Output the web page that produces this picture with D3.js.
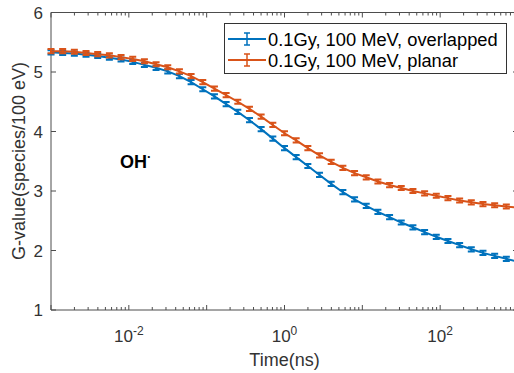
<!DOCTYPE html>
<html>
<head>
<meta charset="utf-8">
<script src="https://cdn.jsdelivr.net/npm/d3@7"></script>
<style>
  body { margin: 0; background: #fff; }
  text { font-family: "Liberation Sans", Arial, Helvetica, sans-serif; }
</style>
</head>
<body>
<script>
// time points, log10(ns)
var logTimes = [-3, -2.85, -2.7, -2.55, -2.4, -2.25, -2.1, -1.95, -1.8, -1.65,
                -1.5, -1.35, -1.2, -1.05, -0.9, -0.75, -0.6, -0.45, -0.3, -0.15,
                0, 0.15, 0.3, 0.45, 0.6, 0.75, 0.9, 1.05, 1.2, 1.35,
                1.5, 1.65, 1.8, 1.95, 2.1, 2.25, 2.4, 2.55, 2.7, 2.85, 3];

var overlapped = [5.33, 5.32, 5.31, 5.29, 5.27, 5.24, 5.21, 5.17, 5.12, 5.07,
                  5.01, 4.93, 4.83, 4.71, 4.59, 4.46, 4.33, 4.19, 4.04, 3.88,
                  3.72, 3.57, 3.42, 3.27, 3.12, 2.98, 2.86, 2.75, 2.65, 2.56,
                  2.47, 2.39, 2.31, 2.23, 2.16, 2.09, 2.02, 1.96, 1.91, 1.86, 1.81];

var planar = [5.35, 5.35, 5.34, 5.32, 5.30, 5.28, 5.25, 5.22, 5.18, 5.13,
              5.08, 5.01, 4.93, 4.83, 4.72, 4.61, 4.50, 4.38, 4.25, 4.11,
              3.97, 3.85, 3.72, 3.60, 3.49, 3.39, 3.30, 3.23, 3.16, 3.10,
              3.05, 3.00, 2.96, 2.92, 2.88, 2.84, 2.81, 2.78, 2.76, 2.74, 2.72];

var errSize = 0.035;
var seriesNames = ["0.1Gy, 100 MeV, overlapped", "0.1Gy, 100 MeV, planar"];
var seriesColors = ["#0072BD", "#D95319"];
var yTicks = [1, 2, 3, 4, 5, 6];
var xLabelExps = [-2, 0, 2];

var x = d3.scaleLog().domain([1e-3, 1e3]).range([51, 518]);
var y = d3.scaleLinear().domain([1, 6]).range([310, 12.5]);

var svg = d3.select("body").append("svg").attr("width", 514).attr("height", 373);

var axisColor = "#4d4d4d";
var textColor = "#333";

// frame
svg.append("path")
    .attr("d", "M51,12.5 H518 M51,12.5 V310 H518")
    .attr("fill", "none").attr("stroke", axisColor).attr("stroke-width", 1);

// x ticks, major and minor, bottom and top
var majorX = [-3, -2, -1, 0, 1, 2, 3].map(function(e){ return Math.pow(10, e); });
var minorX = [];
majorX.slice(0, 6).forEach(function(m){
  for (var k = 2; k < 10; k++) minorX.push(m * k);
});

svg.selectAll("line.xmaj")
   .data(majorX).enter().append("line")
   .attr("x1", function(d){ return x(d); }).attr("x2", function(d){ return x(d); })
   .attr("y1", 310).attr("y2", 305)
   .attr("stroke", axisColor);
svg.selectAll("line.xmajt")
   .data(majorX).enter().append("line")
   .attr("x1", function(d){ return x(d); }).attr("x2", function(d){ return x(d); })
   .attr("y1", 12.5).attr("y2", 17.5)
   .attr("stroke", axisColor);
svg.selectAll("line.xmin")
   .data(minorX).enter().append("line")
   .attr("x1", function(d){ return x(d); }).attr("x2", function(d){ return x(d); })
   .attr("y1", 310).attr("y2", 307)
   .attr("stroke", axisColor);
svg.selectAll("line.xmint")
   .data(minorX).enter().append("line")
   .attr("x1", function(d){ return x(d); }).attr("x2", function(d){ return x(d); })
   .attr("y1", 12.5).attr("y2", 15.5)
   .attr("stroke", axisColor);

// y ticks left and right
svg.selectAll("line.yl")
   .data(yTicks).enter().append("line")
   .attr("x1", 51).attr("x2", 56)
   .attr("y1", function(d){ return y(d); }).attr("y2", function(d){ return y(d); })
   .attr("stroke", axisColor);
svg.selectAll("line.yr")
   .data(yTicks).enter().append("line")
   .attr("x1", 518).attr("x2", 513)
   .attr("y1", function(d){ return y(d); }).attr("y2", function(d){ return y(d); })
   .attr("stroke", axisColor);

svg.selectAll("text.ytick")
   .data(yTicks).enter().append("text")
   .attr("x", 43).attr("y", function(d){ return y(d) + 6; })
   .attr("text-anchor", "end")
   .attr("font-size", 17).attr("fill", textColor)
   .text(function(d){ return d; });

var xl = svg.selectAll("text.xtick")
   .data(xLabelExps).enter().append("text")
   .attr("x", function(d){ return x(Math.pow(10, d)); })
   .attr("y", 342)
   .attr("text-anchor", "middle")
   .attr("font-size", 17).attr("fill", textColor);
xl.append("tspan").text("10");
xl.append("tspan").attr("dy", -7).attr("font-size", 12).text(function(d){ return d; });

svg.append("text")
   .attr("x", 284.5).attr("y", 366)
   .attr("text-anchor", "middle")
   .attr("font-size", 18).attr("fill", textColor)
   .text("Time(ns)");

svg.append("text")
   .attr("transform", "translate(25,161) rotate(-90)")
   .attr("text-anchor", "middle")
   .attr("font-size", 18).attr("fill", textColor)
   .text("G-value(species/100 eV)");

// OH label
var oh = svg.append("text")
   .attr("x", 120).attr("y", 168)
   .attr("font-size", 18).attr("font-weight", "bold").attr("fill", "#000");
oh.append("tspan").text("OH");
oh.append("tspan").attr("dy", -7).attr("font-size", 13).text("·");

// series
var series = [overlapped, planar];
var line = d3.line()
    .x(function(d){ return x(Math.pow(10, d[0])); })
    .y(function(d){ return y(d[1]); });

series.forEach(function(vals, s){
  var pts = logTimes.map(function(t, i){ return [t, vals[i]]; });
  var g = svg.append("g");
  g.append("path")
     .attr("d", line(pts))
     .attr("fill", "none")
     .attr("stroke", seriesColors[s])
     .attr("stroke-width", 2);
  g.selectAll("path.err")
     .data(pts).enter().append("path")
     .attr("d", function(d){
        var cx = x(Math.pow(10, d[0]));
        var y0 = y(d[1] - errSize), y1 = y(d[1] + errSize);
        return "M" + cx + "," + y0 + "V" + y1 +
               "M" + (cx - 3.5) + "," + y0 + "H" + (cx + 3.5) +
               "M" + (cx - 3.5) + "," + y1 + "H" + (cx + 3.5);
     })
     .attr("fill", "none")
     .attr("stroke", seriesColors[s])
     .attr("stroke-width", 2);
});

// legend
var leg = svg.append("g");
leg.append("rect")
   .attr("x", 224.5).attr("y", 23.5).attr("width", 282).attr("height", 50)
   .attr("fill", "#fff").attr("stroke", "#333").attr("stroke-width", 1);

seriesNames.forEach(function(name, i){
  var ry = 39 + i * 21;
  leg.append("line")
     .attr("x1", 228).attr("x2", 266).attr("y1", ry).attr("y2", ry)
     .attr("stroke", seriesColors[i]).attr("stroke-width", 2);
  leg.append("path")
     .attr("d", "M247," + (ry - 6) + "V" + (ry + 6) +
                "M244," + (ry - 6) + "H250M244," + (ry + 6) + "H250")
     .attr("fill", "none")
     .attr("stroke", seriesColors[i]).attr("stroke-width", 1.5);
  leg.append("text")
     .attr("x", 268).attr("y", ry + 6.5)
     .attr("font-size", 18.3).attr("fill", "#000")
     .text(name);
});
</script>
</body>
</html>
